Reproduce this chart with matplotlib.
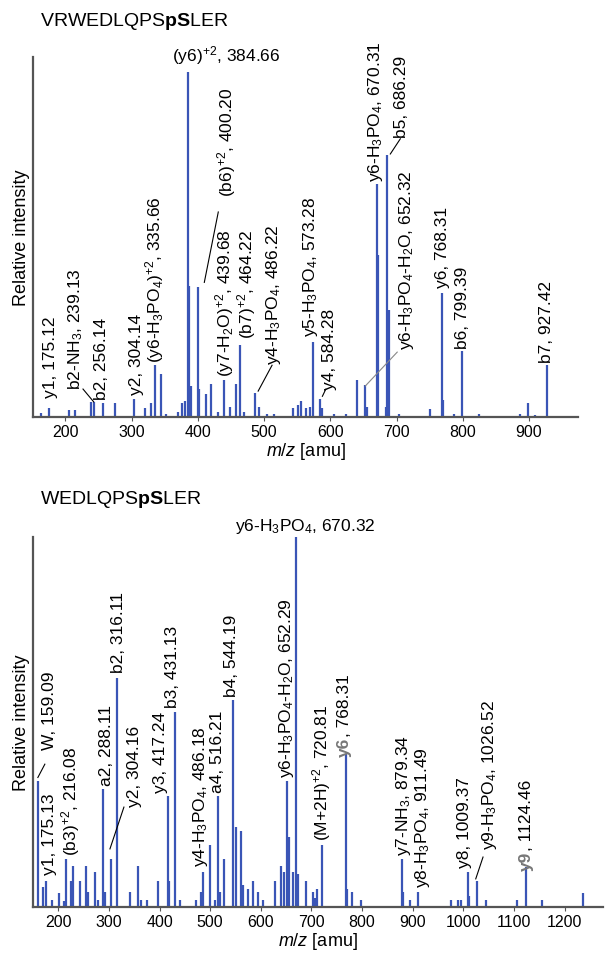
import matplotlib
matplotlib.use('Agg')
import matplotlib.pyplot as plt

plt.rcParams['font.family'] = ['Liberation Sans', 'DejaVu Sans']
plt.rcParams['mathtext.fontset'] = 'custom'
plt.rcParams['mathtext.rm'] = 'Liberation Sans'
plt.rcParams['mathtext.it'] = 'Liberation Sans:italic'
plt.rcParams['mathtext.bf'] = 'Liberation Sans:bold'

# --- data: VRWEDLQPSpSLER ---
top_mz = [163, 175.12, 205, 214, 239.13, 242.6, 256.14, 275, 304.14, 320, 329, 335.66, 345,
          352, 370, 376, 381, 384.66, 386.5, 389, 400.20, 401.5, 413, 420, 430, 439.68, 448,
          458, 464.22, 470, 486.22, 492, 505, 515, 544, 551, 556, 564, 570, 573.28, 584.28,
          588, 606, 624, 641, 652.32, 656, 670.31, 671.5, 684, 686.29, 688, 704, 751, 768.31,
          770, 786, 799.39, 825, 887, 899, 909, 927.42]
top_int = [1.2, 2.6, 2, 2, 4.3, 4.3, 4.2, 4, 5.2, 2.6, 4, 15, 12.5,
           1, 1.5, 4, 4.5, 100, 38, 9, 37.7, 8, 6.6, 9.6, 1.5, 10.8, 3,
           9.6, 21, 1.5, 7, 3, 1, 1, 2.5, 3.5, 4.5, 2.5, 3, 21.8, 5.2,
           2.5, 1, 1, 10.8, 9.3, 3, 67.5, 47, 3, 76, 31, 1, 2.3, 36,
           5, 1, 19, 1, 1, 4, 0.7, 15]

# --- data: WEDLQPSpSLER ---
bot_mz = [159.09, 170, 175.13, 187, 201, 211, 216.08, 225, 229, 243, 254, 259, 272, 278,
          288.11, 293, 304.16, 316.11, 341, 358, 364, 375, 397, 417.24, 419, 431.13, 440,
          472, 481, 486.18, 499, 509, 516.21, 520, 528, 544.19, 552, 560, 565, 574, 584,
          595, 605, 628, 640, 645, 652.29, 656, 663, 670.32, 674, 689, 703, 708, 712, 720.81,
          768.31, 770, 780, 797, 879.34, 881, 895, 911.49, 975, 990, 996, 1009.37, 1011,
          1026.52, 1044, 1107, 1124.46, 1155, 1236]
bot_int = [34, 5.4, 7, 2, 3.8, 1.5, 13, 7, 11, 7, 11, 4, 9.5, 2,
           32, 4, 13, 62, 4, 11, 2, 2, 7, 30, 7, 52.8, 2,
           2, 4, 9.5, 16.8, 2, 30, 4, 13, 56, 21.5, 20.6, 6, 5, 7,
           4, 2, 7, 11, 9.5, 34, 19, 9.5, 100, 9, 7, 4, 2.5, 5, 16.8,
           41.4, 5, 4, 2, 13, 4, 2, 4, 2, 2, 2, 9.5, 3,
           7, 2, 2, 10.8, 2, 3.8]

PEAK = '#3a55b6'
SPINE = '#555555'
LBL = 12.5

fig = plt.figure(figsize=(6.09, 9.54), dpi=100)


def setup(ax, xlim, ylim, ticks):
    ax.set_xlim(*xlim)
    ax.set_ylim(*ylim)
    for s in ['top', 'right']:
        ax.spines[s].set_visible(False)
    for s in ['left', 'bottom']:
        ax.spines[s].set_color(SPINE)
        ax.spines[s].set_linewidth(1.6)
    ax.set_yticks([])
    ax.set_xticks(ticks)
    ax.tick_params(axis='x', direction='out', length=3, color=SPINE, labelsize=11.5, pad=2)
    ax.set_ylabel('Relative intensity', fontsize=13, labelpad=2)
    ax.set_xlabel('$m/z$ [amu]', fontsize=13, labelpad=1)


def rot_label(ax, text, x, y, color='black'):
    ax.text(x, y, text, rotation=90, ha='center', va='bottom', fontsize=LBL,
            color=color, clip_on=False)


def leader(ax, p0, p1, color='black'):
    ax.plot([p0[0], p1[0]], [p0[1], p1[1]], color=color, lw=0.8, clip_on=False)


# ---------------- top panel ----------------
ax1 = fig.add_axes([33 / 609, 1 - 418 / 954, 545 / 609, 360 / 954])
ax1.vlines(top_mz, 0, top_int, color=PEAK, lw=1.6)
setup(ax1, (151, 974), (0, 104.3), range(200, 1000, 100))
fig.text(40 / 609, 1 - 22 / 954, r'VRWEDLQPS$\mathbf{pS}$LER', fontsize=14, va='center')

ax1.text(361, 105, r'(y6)$^{+2}$, 384.66', fontsize=LBL, ha='left', va='center', clip_on=False)
top_labels = [
    ('y1, 175.12', 177, 5.8),
    (r'b2-NH$_3$, 239.13', 215, 8.2),
    ('b2, 256.14', 255, 5.2),
    ('y2, 304.14', 308, 6.7),
    (r'(y6-H$_3$PO$_4$)$^{+2}$, 335.66', 335, 16),
    (r'(b6)$^{+2}$, 400.20', 444, 64),
    (r'(y7-H$_2$O)$^{+2}$, 439.68', 440, 12),
    (r'(b7)$^{+2}$, 464.22', 474, 23),
    (r'y4-H$_3$PO$_4$, 486.22', 514, 15.5),
    (r'y5-H$_3$PO$_4$, 573.28', 570, 23.5),
    ('y4, 584.28', 598, 8),
    (r'y6-H$_3$PO$_4$, 670.31', 668, 68.5),
    ('b5, 686.29', 708, 81),
    (r'y6-H$_3$PO$_4$-H$_2$O, 652.32', 715, 19.7),
    ('y6, 768.31', 769, 37.7),
    ('b6, 799.39', 799, 20),
    ('b7, 927.42', 927, 16),
]
for t, x, y in top_labels:
    rot_label(ax1, t, x, y)
leader(ax1, (242.6, 4.4), (226.5, 8.1))
leader(ax1, (409.7, 39), (430.8, 59.4))
leader(ax1, (491, 7.5), (512, 15))
leader(ax1, (588, 6), (593, 8))
leader(ax1, (690.6, 76.2), (705.7, 80.6))
leader(ax1, (652.9, 9), (701, 18.8), color='#888888')

# ---------------- bottom panel ----------------
ax2 = fig.add_axes([33 / 609, 46 / 954, 570 / 609, 370 / 954])
ax2.vlines(bot_mz, 0, bot_int, color=PEAK, lw=1.6)
setup(ax2, (150, 1276), (0, 100), range(200, 1300, 100))
fig.text(40 / 609, 1 - 500 / 954, r'WEDLQPS$\mathbf{pS}$LER', fontsize=14, va='center')

ax2.text(687, 103, r'y6-H$_3$PO$_4$, 670.32', fontsize=LBL, ha='center', va='center', clip_on=False)
bot_labels = [
    ('W, 159.09', 183, 42.7),
    ('y1, 175.13', 183, 9),
    (r'(b3)$^{+2}$, 216.08', 224, 14),
    ('a2, 288.11', 295, 33),
    ('y2, 304.16', 351, 27.4),
    ('b2, 316.11', 318, 63.5),
    ('y3, 417.24', 401, 31),
    ('b3, 431.13', 426, 54),
    (r'y4-H$_3$PO$_4$, 486.18', 480, 11),
    ('a4, 516.21', 515, 31),
    ('b4, 544.19', 542, 57),
    (r'y6-H$_3$PO$_4$-H$_2$O, 652.29', 650, 35),
    (r'(M+2H)$^{+2}$, 720.81', 720, 18),
    (r'y7-NH$_3$, 879.34', 881, 14),
    (r'y8-H$_3$PO$_4$, 911.49', 920, 5.4),
    ('y8, 1009.37', 1003, 10.8),
    (r'y9-H$_3$PO$_4$, 1026.52', 1051, 15.7),
]
for t, x, y in bot_labels:
    rot_label(ax2, t, x, y)

# y6 / y9 with gray ion names
for name, rest, x, y in [('y6', ', 768.31', 766, 40.8), ('y9', ', 1124.46', 1125, 10)]:
    ax2.text(x, y, name, rotation=90, ha='center', va='bottom', fontsize=LBL,
             color='#777777', fontweight='bold', clip_on=False)
    ax2.annotate(rest, (x, y), xytext=(0, 14.5), textcoords='offset points', rotation=90,
                 ha='center', va='bottom', fontsize=LBL, annotation_clip=False)

leader(ax2, (159.6, 35), (173.4, 38.6))
leader(ax2, (302, 15.7), (329.6, 27))
leader(ax2, (1024.6, 7.6), (1039, 13.5))

fig.savefig('out.png', dpi=100)
